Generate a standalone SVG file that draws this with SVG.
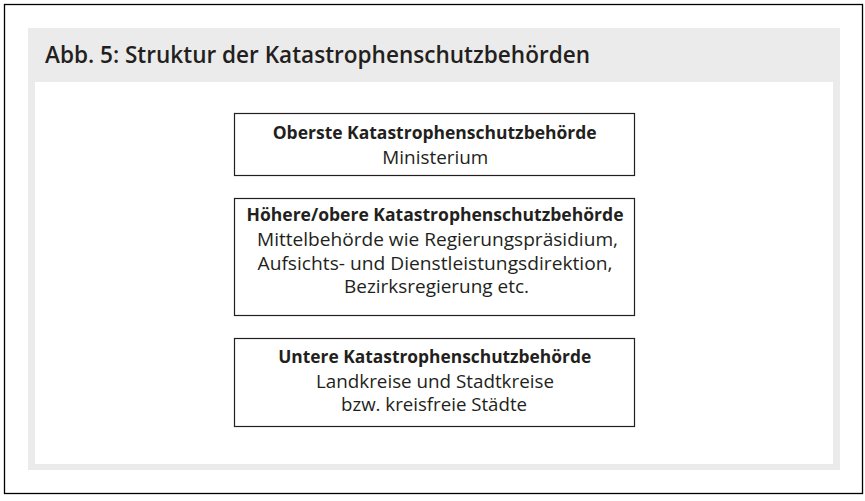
<svg xmlns="http://www.w3.org/2000/svg" width="865" height="501" viewBox="0 0 865 501">
<style>
.t{font-family:"Open Sans","Liberation Sans",sans-serif;fill:#231f20;text-anchor:middle;font-size:17.5px}
.b{font-weight:700;font-size:18px}
.box{fill:#fff;stroke:#231f20;stroke-width:1.2}
</style>
<rect x="0" y="0" width="865" height="501" fill="#fff"/>
<rect x="4.5" y="4.5" width="858" height="489" fill="#fff" stroke="#000" stroke-width="1.3"/>
<rect x="28" y="28" width="812" height="442" fill="#ebebeb"/>
<rect x="35" y="82" width="798" height="382" fill="#fff"/>
<text x="45" y="63" font-family="Open Sans, Liberation Sans, sans-serif" font-size="22.5" font-weight="600" fill="#231f20" textLength="545" lengthAdjust="spacingAndGlyphs">Abb. 5: Struktur der Katastrophenschutzbehörden</text>
<g id="node1">
<rect class="box" x="234.5" y="113.5" width="400" height="62"/>
<text class="t b" x="434.7" y="138.5" textLength="324" lengthAdjust="spacingAndGlyphs">Oberste Katastrophenschutzbehörde</text>
<text class="t" x="435.3" y="164" textLength="106" lengthAdjust="spacingAndGlyphs">Ministerium</text>
</g>
<g id="node2">
<rect class="box" x="234.5" y="198.5" width="400" height="117"/>
<text class="t b" x="435" y="221" textLength="377" lengthAdjust="spacingAndGlyphs">Höhere/obere Katastrophenschutzbehörde</text>
<text class="t" x="437.5" y="245.5" textLength="361" lengthAdjust="spacingAndGlyphs">Mittelbehörde wie Regierungspräsidium,</text>
<text class="t" x="435" y="269.5" textLength="355" lengthAdjust="spacingAndGlyphs">Aufsichts- und Dienstleistungsdirektion,</text>
<text class="t" x="436.5" y="293" textLength="185" lengthAdjust="spacingAndGlyphs">Bezirksregierung etc.</text>
</g>
<g id="node3">
<rect class="box" x="234.5" y="338.5" width="400" height="88"/>
<text class="t b" x="434.7" y="362.5" textLength="313" lengthAdjust="spacingAndGlyphs">Untere Katastrophenschutzbehörde</text>
<text class="t" x="435" y="387.5" textLength="238" lengthAdjust="spacingAndGlyphs">Landkreise und Stadtkreise</text>
<text class="t" x="434" y="411" textLength="186" lengthAdjust="spacingAndGlyphs">bzw. kreisfreie Städte</text>
</g>
<g id="connectors"></g>
</svg>
